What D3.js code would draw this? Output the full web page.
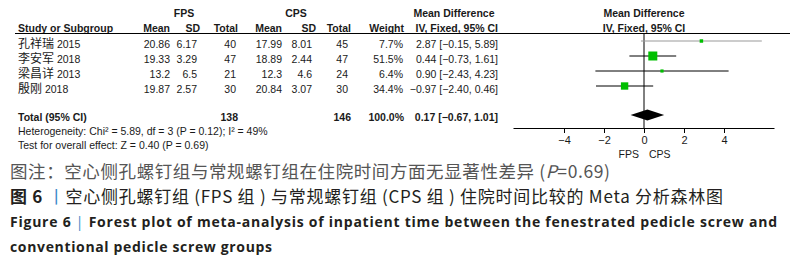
<!DOCTYPE html>
<html>
<head>
<meta charset="utf-8">
<script src="https://cdn.jsdelivr.net/npm/d3@7"></script>
<style>
  body { margin: 0; background: #fff; }
  svg { display: block; }
  .tab { font-family: "Liberation Sans", Arial, "Noto Sans CJK SC", sans-serif; font-size: 10.5px; fill: #1a1a1a; }
  .hd { font-weight: bold; }
  .cjk { font-size: 12px; }
</style>
</head>
<body>
<svg id="chart" width="792" height="264"></svg>
<script>
// study data
var studies = ["孔祥瑞", "李安军", "梁昌详", "殷刚"];
var years = [2015, 2018, 2013, 2018];
var fpsMean = ["20.86", "19.33", "13.2", "19.87"];
var fpsSD = ["6.17", "3.29", "6.5", "2.57"];
var fpsN = [40, 47, 21, 30];
var cpsMean = ["17.99", "18.89", "12.3", "20.84"];
var cpsSD = ["8.01", "2.44", "4.6", "3.07"];
var cpsN = [45, 47, 24, 30];
var weight = [7.7, 51.5, 6.4, 34.4];
var md = [2.87, 0.44, 0.90, -0.97];
var lo = [-0.15, -0.73, -2.43, -2.40];
var hi = [5.89, 1.61, 4.23, 0.46];
var totalN = [138, 146];
var totalMD = [0.17, -0.67, 1.01];
var ticks = [-4, -2, 0, 2, 4];

var svg = d3.select("#chart");
var f2 = d3.format(".2f");

var x = d3.scaleLinear().domain([-6.55, 6.5]).range([513, 774]);
var y = d3.scaleLinear().domain([0, 3]).range([44, 89]);
var sq = d3.scaleSqrt().domain([0, d3.max(weight)]).range([0, 9]);

var g = svg.append("g").attr("class", "tab");

// headers
function txt(px, py, s, anchor, cls) {
    return g.append("text")
        .attr("x", px).attr("y", py)
        .attr("dy", "0.35em")
        .attr("text-anchor", anchor || "start")
        .attr("class", cls || null)
        .text(s);
}
txt(184, 13, "FPS", "middle", "hd");
txt(296, 13, "CPS", "middle", "hd");
txt(454, 13, "Mean Difference", "middle", "hd");
txt(644, 13, "Mean Difference", "middle", "hd");
txt(18, 28, "Study or Subgroup", "start", "hd");
txt(170, 28, "Mean", "end", "hd");
txt(200, 28, "SD", "end", "hd");
txt(238, 28, "Total", "end", "hd");
txt(282, 28, "Mean", "end", "hd");
txt(316, 28, "SD", "end", "hd");
txt(351, 28, "Total", "end", "hd");
txt(404, 28, "Weight", "end", "hd");
txt(498, 28, "IV, Fixed, 95% CI", "end", "hd");
txt(644, 28, "IV, Fixed, 95% CI", "middle", "hd");

svg.append("line")
    .attr("x1", 15).attr("x2", 790)
    .attr("y1", 33.5).attr("y2", 33.5)
    .attr("stroke", "#000").attr("stroke-width", 1);

// study rows
studies.forEach(function(s, i) {
    var yy = y(i);
    var t = txt(18, yy, "");
    t.append("tspan").attr("class", "cjk").text(s);
    t.append("tspan").text(" " + years[i]);
    txt(170, yy, fpsMean[i], "end");
    txt(197, yy, fpsSD[i], "end");
    txt(236, yy, fpsN[i], "end");
    txt(282, yy, cpsMean[i], "end");
    txt(312, yy, cpsSD[i], "end");
    txt(348, yy, cpsN[i], "end");
    txt(403, yy, weight[i].toFixed(1) + "%", "end");
    txt(498, yy, f2(md[i]) + " [" + f2(lo[i]) + ", " + f2(hi[i]) + "]", "end");
});

// total row
var yt = 117;
txt(18, yt, "Total (95% CI)", "start", "hd");
txt(238, yt, totalN[0], "end", "hd");
txt(351, yt, totalN[1], "end", "hd");
txt(404, yt, "100.0%", "end", "hd");
txt(498, yt, f2(totalMD[0]) + " [" + f2(totalMD[1]) + ", " + f2(totalMD[2]) + "]", "end", "hd");
txt(18, 131, "Heterogeneity: Chi\u00b2 = 5.89, df = 3 (P = 0.12); I\u00b2 = 49%");
txt(18, 145, "Test for overall effect: Z = 0.40 (P = 0.69)");

// forest plot
var fp = svg.append("g");

fp.append("line")
    .attr("x1", x(0)).attr("x2", x(0))
    .attr("y1", 33).attr("y2", 128)
    .attr("stroke", "#000").attr("stroke-width", 1);

fp.selectAll(".ci")
    .data(md)
    .enter().append("line")
    .attr("class", "ci")
    .attr("x1", function(d, i) { return x(lo[i]); })
    .attr("x2", function(d, i) { return x(hi[i]); })
    .attr("y1", function(d, i) { return y(i) - 3; })
    .attr("y2", function(d, i) { return y(i) - 3; })
    .attr("stroke", function(d, i) { return i == 0 ? "#999" : "#000"; })
    .attr("stroke-width", 1);

fp.selectAll(".sq")
    .data(md)
    .enter().append("rect")
    .attr("class", "sq")
    .attr("x", function(d, i) { return x(d) - sq(weight[i]) / 2; })
    .attr("y", function(d, i) { return y(i) - 3 - sq(weight[i]) / 2; })
    .attr("width", function(d, i) { return sq(weight[i]); })
    .attr("height", function(d, i) { return sq(weight[i]); })
    .attr("fill", "#00bf00");

var yd = 115;
fp.append("polygon")
    .attr("points", [
        [x(totalMD[1]), yd],
        [x(totalMD[0]), yd - 5.5],
        [x(totalMD[2]), yd],
        [x(totalMD[0]), yd + 5.5]
    ].map(function(p) { return p.join(","); }).join(" "))
    .attr("fill", "#000");

var ax = fp.append("g")
    .attr("transform", "translate(0,128)")
    .call(d3.axisBottom(x).tickValues(ticks).tickSize(5).tickSizeOuter(0));
ax.select(".domain").attr("stroke", "#000");
ax.selectAll("text")
    .attr("font-family", "Liberation Sans, Arial, sans-serif")
    .attr("font-size", "11px")
    .attr("fill", "#1a1a1a");

fp.append("text").attr("class", "tab")
    .attr("x", 639).attr("y", 154).attr("dy", "0.35em")
    .attr("text-anchor", "end").text("FPS");
fp.append("text").attr("class", "tab")
    .attr("x", 649).attr("y", 154).attr("dy", "0.35em")
    .text("CPS");

// captions
var cap = svg.append("g").attr("font-family", "'Noto Sans CJK SC', sans-serif");

var c1 = cap.append("text")
    .attr("x", 10).attr("y", 172).attr("dy", "0.35em")
    .attr("font-size", "17.5px").attr("fill", "#555")
    .attr("textLength", 600).attr("lengthAdjust", "spacing");
c1.append("tspan").text("图注：空心侧孔螺钉组与常规螺钉组在住院时间方面无显著性差异 (");
c1.append("tspan").attr("font-style", "italic").text("P");
c1.append("tspan").text("=0.69)");

var c2 = cap.append("text")
    .attr("x", 10).attr("y", 197).attr("dy", "0.35em")
    .attr("font-size", "17px").attr("fill", "#231f20")
    .attr("textLength", 713).attr("lengthAdjust", "spacing");
c2.append("tspan").attr("font-weight", "bold").text("图 6 ");
c2.append("tspan").attr("fill", "#3a86c8").text("丨");
c2.append("tspan").text("空心侧孔螺钉组 (FPS 组 ) 与常规螺钉组 (CPS 组 ) 住院时间比较的 Meta 分析森林图");

var c3 = cap.append("text")
    .attr("x", 10).attr("y", 222).attr("dy", "0.35em")
    .attr("font-family", "'Open Sans', Lato, sans-serif")
    .attr("font-size", "14px").attr("font-weight", "bold").attr("fill", "#231f20")
    .attr("textLength", 767).attr("lengthAdjust", "spacing");
c3.append("tspan").text("Figure 6  ");
c3.append("tspan").attr("fill", "#3a86c8").attr("font-weight", "normal").text("|");
c3.append("tspan").text("  Forest plot of meta-analysis of inpatient time between the fenestrated pedicle screw and");

cap.append("text")
    .attr("x", 10).attr("y", 247).attr("dy", "0.35em")
    .attr("font-family", "'Open Sans', Lato, sans-serif")
    .attr("font-size", "14px").attr("font-weight", "bold").attr("fill", "#231f20")
    .attr("textLength", 262).attr("lengthAdjust", "spacing")
    .text("conventional pedicle screw groups");
</script>
</body>
</html>
